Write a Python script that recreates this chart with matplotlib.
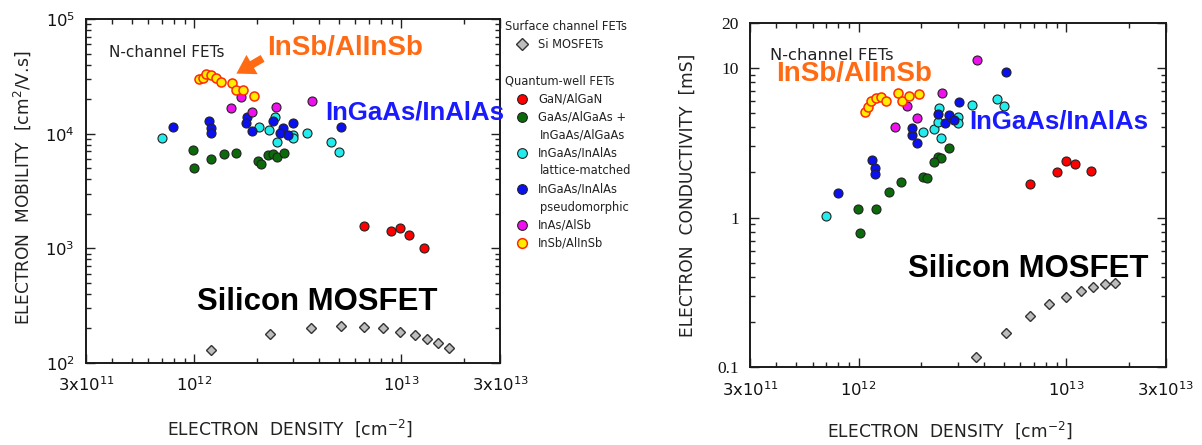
"""Electron mobility and conductivity vs electron density for n-channel FETs.

Two log-log panels (mobility, conductivity) sharing a hand-drawn legend
between them, Silicon MOSFET vs quantum-well FETs.
"""
import matplotlib
matplotlib.use("Agg")
import matplotlib.pyplot as plt
from matplotlib.lines import Line2D
from matplotlib.patches import FancyArrowPatch
from matplotlib.ticker import FixedLocator, NullFormatter, FixedFormatter

W, H = 1202, 445  # output size in pixels (dpi 100)

# --- mobility panel data [cm^-2], [cm^2/V.s] --------------------------
mob_si_n = [1.20e12, 2.31e12, 3.66e12, 5.12e12, 6.64e12, 8.19e12, 9.86e12,
            1.16e13, 1.33e13, 1.51e13, 1.71e13]
mob_si_mu = [130, 179, 203, 210, 207, 200, 188, 175, 161, 149, 134]

mob_gan_n = [6.64e12, 8.93e12, 9.86e12, 1.09e13, 1.29e13]
mob_gan_mu = [1570, 1420, 1510, 1310, 1000]

mob_gaas_n = [0.99e12, 1.00e12, 1.20e12, 1.39e12, 1.60e12, 2.03e12, 2.10e12,
              2.28e12, 2.41e12, 2.50e12, 2.72e12]
mob_gaas_mu = [7190, 5050, 6010, 6640, 6810, 5810, 5430, 6500, 6640, 6290, 6730]

mob_lm_n = [7.02e11, 2.05e12, 2.30e12, 2.45e12, 2.50e12, 3.01e12, 3.01e12,
            3.49e12, 4.57e12, 5.00e12]
mob_lm_mu = [9200, 11500, 10700, 13900, 8500, 9700, 9100, 10100, 8400, 6950]

mob_pm_n = [7.93e11, 1.18e12, 1.20e12, 1.21e12, 1.79e12, 1.78e12, 1.90e12,
            2.39e12, 2.67e12, 2.60e12, 2.85e12, 2.99e12, 5.10e12]
mob_pm_mu = [11500, 12900, 11200, 10100, 14000, 12300, 10500, 12900, 11100,
             10200, 9700, 12300, 11500]

mob_inas_n = [1.69e12, 1.50e12, 1.90e12, 2.49e12, 3.69e12]
mob_inas_mu = [20700, 16600, 15300, 17200, 19200]

mob_insb_n = [1.06e12, 1.10e12, 1.14e12, 1.21e12, 1.28e12, 1.35e12, 1.53e12,
              1.59e12, 1.72e12, 1.95e12]
mob_insb_mu = [29900, 30700, 33100, 32400, 30300, 28300, 27500, 24000, 24000,
               21400]

# --- conductivity panel data [cm^-2], [mS] -----------------------------
cond_si_n = [3.67e12, 5.14e12, 6.71e12, 8.28e12, 9.97e12, 1.17e13, 1.34e13,
             1.53e13, 1.72e13]
cond_si_g = [0.117, 0.170, 0.221, 0.264, 0.296, 0.323, 0.342, 0.358, 0.364]

cond_gan_n = [6.71e12, 9.01e12, 9.98e12, 1.10e13, 1.31e13]
cond_gan_g = [1.67, 2.00, 2.38, 2.27, 2.05]

cond_gaas_n = [2.71e12, 2.40e12, 2.50e12, 2.30e12, 2.05e12, 2.13e12, 1.60e12,
               1.40e12, 9.98e11, 1.21e12, 1.01e12]
cond_gaas_g = [2.90, 2.55, 2.48, 2.36, 1.87, 1.83, 1.72, 1.47, 1.135, 1.14, 0.79]

cond_lm_n = [6.97e11, 2.05e12, 2.31e12, 2.42e12, 2.45e12, 2.50e12, 3.01e12,
             3.01e12, 3.51e12, 4.64e12, 4.99e12]
cond_lm_g = [1.03, 3.71, 3.90, 4.36, 5.41, 3.41, 4.71, 4.30, 5.63, 6.18, 5.54]

cond_pm_n = [7.94e11, 1.16e12, 1.20e12, 1.20e12, 1.80e12, 1.81e12, 1.91e12,
             2.41e12, 2.61e12, 2.71e12, 2.87e12, 3.03e12, 5.14e12]
cond_pm_g = [1.45, 2.42, 2.15, 1.94, 3.56, 3.98, 3.16, 4.89, 4.25, 4.83, 4.48,
             5.93, 9.40]

cond_inas_n = [1.50e12, 1.71e12, 1.91e12, 2.52e12, 3.71e12]
cond_inas_g = [4.00, 5.57, 4.59, 6.74, 11.2]

cond_insb_n = [1.07e12, 1.11e12, 1.15e12, 1.21e12, 1.28e12, 1.35e12, 1.55e12,
               1.62e12, 1.74e12, 1.96e12]
cond_insb_g = [5.03, 5.50, 6.03, 6.31, 6.34, 6.03, 6.74, 6.03, 6.50, 6.67]

# --- axis ticks ---------------------------------------------------------
x_ticks = [3e11, 1e12, 1e13, 3e13]
x_ticklabels = [r"$\mathregular{3x10^{11}}$", r"$\mathregular{10^{12}}$",
                r"$\mathregular{10^{13}}$", r"$\mathregular{3x10^{13}}$"]
mob_ticks = [1e2, 1e3, 1e4, 1e5]
mob_ticklabels = [r"$\mathregular{10^{2}}$", r"$\mathregular{10^{3}}$",
                  r"$\mathregular{10^{4}}$", r"$\mathregular{10^{5}}$"]
cond_ticks = [0.1, 1, 10, 20]
cond_ticklabels = ["0.1", "1", "10", "20"]

# legend entries: (label lines, style key)
legend_entries = [
    (["GaN/AlGaN"], "gan"),
    (["GaAs/AlGaAs +", "InGaAs/AlGaAs"], "gaas"),
    (["InGaAs/InAlAs", "lattice-matched"], "lm"),
    (["InGaAs/InAlAs", "pseudomorphic"], "pm"),
    (["InAs/AlSb"], "inas"),
    (["InSb/AlInSb"], "insb"),
]

STYLE = {
    "si":   dict(marker="D", mfc="#bdbdbd", mec="#333333", mew=1.0, ms=5.3),
    "gan":  dict(marker="o", mfc="#ff0000", mec="#222222", mew=0.8, ms=6.5),
    "gaas": dict(marker="o", mfc="#0b6b0b", mec="#222222", mew=0.8, ms=6.5),
    "lm":   dict(marker="o", mfc="#22ecec", mec="#222222", mew=0.8, ms=6.5),
    "pm":   dict(marker="o", mfc="#0a10f0", mec="#222222", mew=0.8, ms=6.5),
    "inas": dict(marker="o", mfc="#ee11ee", mec="#222222", mew=0.8, ms=6.5),
    "insb": dict(marker="o", mfc="#ffee00", mec="#ff2a00", mew=1.1, ms=6.5),
}

SANS = "DejaVu Sans"
BOLD = "Liberation Sans"
ORANGE = "#ff6a13"
BLUE = "#1a1aff"

plt.rcParams["font.family"] = SANS
plt.rcParams["mathtext.fontset"] = "dejavusans"


def fx(px):
    return px / W


def fy(py):
    return 1 - py / H


def add_axes_px(fig, left, top, right, bottom):
    return fig.add_axes([fx(left), fy(bottom), (right - left) / W,
                         (bottom - top) / H])


def style_axes(ax, ylim, yticks, yminor):
    ax.set_xscale("log")
    ax.set_yscale("log")
    ax.set_xlim(3e11, 3e13)
    ax.set_ylim(*ylim)
    ax.xaxis.set_major_locator(FixedLocator(x_ticks))
    ax.xaxis.set_major_formatter(FixedFormatter(x_ticklabels))
    xminor = [k * 1e11 for k in range(4, 10)] + [k * 1e12 for k in range(2, 10)] \
        + [2e13]
    ax.xaxis.set_minor_locator(FixedLocator(xminor))
    ax.xaxis.set_minor_formatter(NullFormatter())
    ax.yaxis.set_major_locator(FixedLocator(yticks))
    ax.yaxis.set_minor_locator(FixedLocator(yminor))
    ax.yaxis.set_minor_formatter(NullFormatter())
    ax.tick_params(which="both", direction="in", top=True, right=True,
                   color="#222222", width=1.0)
    ax.tick_params(which="major", length=6.5)
    ax.tick_params(which="minor", length=3.6)
    ax.tick_params(axis="x", which="major", labelsize=11.8, pad=9,
                   labelcolor="#111111")
    for sp in ax.spines.values():
        sp.set_linewidth(1.4)
        sp.set_color("#1a1a1a")


def draw(ax, n, v, key):
    ax.plot(n, v, linestyle="none", **STYLE[key])


fig = plt.figure(figsize=(W / 100, H / 100), dpi=100)

# --- left: mobility -----------------------------------------------------
ax = add_axes_px(fig, 86, 19, 500, 363)
mob_minor = [k * 10 ** e for e in (2, 3, 4) for k in range(2, 10)]
style_axes(ax, (1e2, 1e5), mob_ticks, mob_minor)
ax.yaxis.set_major_formatter(FixedFormatter(mob_ticklabels))
ax.tick_params(axis="y", which="major", labelsize=11.8, pad=8,
               labelcolor="#111111")
draw(ax, mob_si_n, mob_si_mu, "si")
draw(ax, mob_gan_n, mob_gan_mu, "gan")
draw(ax, mob_gaas_n, mob_gaas_mu, "gaas")
draw(ax, mob_lm_n, mob_lm_mu, "lm")
draw(ax, mob_pm_n, mob_pm_mu, "pm")
draw(ax, mob_inas_n, mob_inas_mu, "inas")
draw(ax, mob_insb_n, mob_insb_mu, "insb")

fig.text(fx(109), fy(57), "N-channel FETs", fontsize=11, color="#222222")
fig.text(fx(267), fy(55), "InSb/AlInSb", fontsize=20, family=BOLD,
         weight="bold", color=ORANGE)
fig.text(fx(325), fy(120), "InGaAs/InAlAs", fontsize=18.5, family=BOLD,
         weight="bold", color=BLUE)
fig.text(fx(317), fy(310), "Silicon MOSFET", fontsize=22.4, family=BOLD,
         weight="bold", color="black", ha="center")
fig.add_artist(FancyArrowPatch(
    (fx(265), fy(57)), (fx(234), fy(75)), transform=fig.transFigure,
    arrowstyle="simple,head_width=0.8,head_length=0.65,tail_width=0.28",
    mutation_scale=20, color=ORANGE, lw=0))
fig.text(fx(22), fy(188), r"ELECTRON  MOBILITY  [cm$\mathregular{^2}$/V.s]",
         rotation=90, fontsize=12.3, color="#222222", ha="center", va="center")
fig.text(fx(290), fy(428), r"ELECTRON  DENSITY  [cm$\mathregular{^{-2}}$]",
         fontsize=12.3, color="#222222", ha="center", va="center")

# --- right: conductivity ------------------------------------------------
ax2 = add_axes_px(fig, 750, 22.7, 1165.5, 367.3)
cond_minor = [k * 0.1 for k in range(2, 10)] + list(range(2, 10))
style_axes(ax2, (0.1, 20), cond_ticks, cond_minor)
ax2.yaxis.set_major_formatter(FixedFormatter(cond_ticklabels))
ax2.tick_params(axis="y", which="major", labelsize=12.5, pad=8,
                labelcolor="#111111")
for lab in ax2.get_yticklabels():
    lab.set_family("Liberation Serif")
draw(ax2, cond_si_n, cond_si_g, "si")
draw(ax2, cond_gan_n, cond_gan_g, "gan")
draw(ax2, cond_gaas_n, cond_gaas_g, "gaas")
draw(ax2, cond_lm_n, cond_lm_g, "lm")
draw(ax2, cond_pm_n, cond_pm_g, "pm")
draw(ax2, cond_inas_n, cond_inas_g, "inas")
draw(ax2, cond_insb_n, cond_insb_g, "insb")

fig.text(fx(770), fy(60), "N-channel FETs", fontsize=11.8, color="#222222")
fig.text(fx(776), fy(81), "InSb/AlInSb", fontsize=20, family=BOLD,
         weight="bold", color=ORANGE)
fig.text(fx(969), fy(128), "InGaAs/InAlAs", fontsize=18.5, family=BOLD,
         weight="bold", color=BLUE)
fig.text(fx(1028), fy(277), "Silicon MOSFET", fontsize=22.4, family=BOLD,
         weight="bold", color="black", ha="center")
fig.text(fx(688), fy(195), "ELECTRON  CONDUCTIVITY  [mS]", rotation=90,
         fontsize=12.3, color="#222222", ha="center", va="center")
fig.text(fx(950), fy(430), r"ELECTRON  DENSITY  [cm$\mathregular{^{-2}}$]",
         fontsize=12.3, color="#222222", ha="center", va="center")

# --- legend between the panels -------------------------------------------
LEG_FS = 8.3
mx, tx = 521.7, 538
fig.text(fx(505), fy(27), "Surface channel FETs", fontsize=LEG_FS,
         color="#222222", va="center")
si_leg = dict(STYLE["si"], ms=6.3)
fig.add_artist(Line2D([fx(mx)], [fy(44)], transform=fig.transFigure,
                      linestyle="none", **si_leg))
fig.text(fx(tx), fy(44), "Si MOSFETs", fontsize=LEG_FS, color="#222222",
         va="center")
fig.text(fx(505), fy(81), "Quantum-well FETs", fontsize=LEG_FS,
         color="#222222", va="center")
y = 99
for lines, key in legend_entries:
    st = dict(STYLE[key], ms=7.0)
    fig.add_artist(Line2D([fx(mx)], [fy(y)], transform=fig.transFigure,
                          linestyle="none", **st))
    for i, s in enumerate(lines):
        fig.text(fx(tx + (2 if i else 0)), fy(y + 18 * i), s, fontsize=LEG_FS,
                 color="#222222", va="center")
    y += 18 * len(lines)

fig.savefig("out.png", dpi=100)
